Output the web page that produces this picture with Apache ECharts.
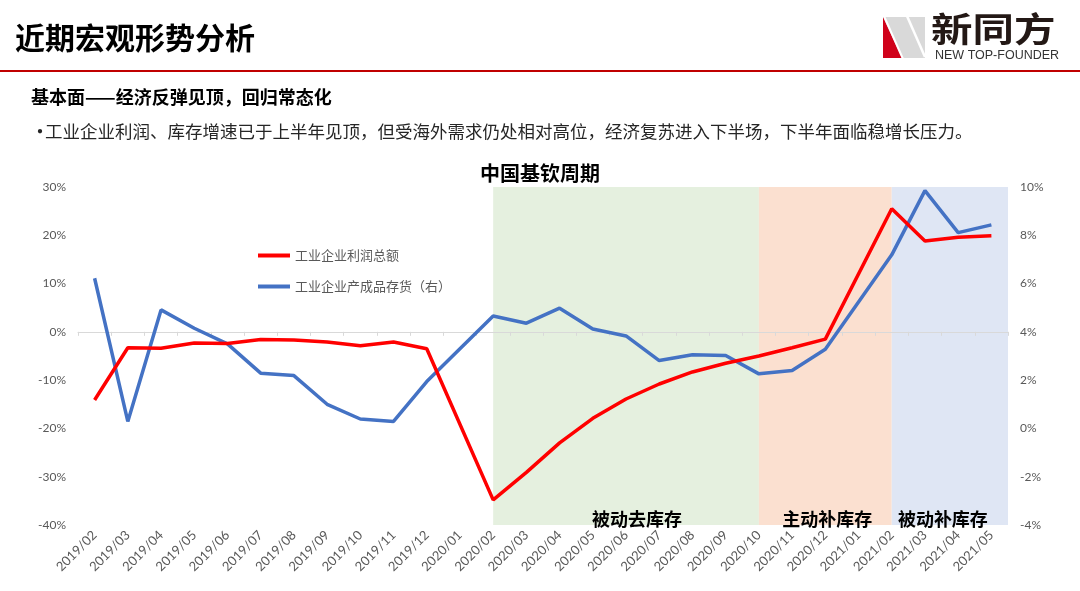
<!DOCTYPE html>
<html>
<head>
<meta charset="utf-8">
<script src="https://cdn.jsdelivr.net/npm/echarts@6/dist/echarts.min.js"></script>
<style>
html,body{margin:0;padding:0;background:#fff;}
#chart{width:1080px;height:591px;}
</style>
</head>
<body>
<div id="chart"></div>
<script>
// ---------- data ----------
const categories = ['2019/02','2019/03','2019/04','2019/05','2019/06','2019/07','2019/08','2019/09','2019/10','2019/11','2019/12',
  '2020/01','2020/02','2020/03','2020/04','2020/05','2020/06','2020/07','2020/08','2020/09','2020/10','2020/11','2020/12',
  '2021/01','2021/02','2021/03','2021/04','2021/05'];
// 工业企业利润总额 (left axis, %)
const profit = [-14.1, -3.3, -3.4, -2.3, -2.4, -1.6, -1.7, -2.1, -2.9, -2.1, -3.5,
  null, -34.8, -29.1, -23.0, -17.9, -13.9, -10.8, -8.3, -6.5, -5.0, -3.3, -1.5,
  null, 25.5, 18.8, 19.6, 19.9];
// 工业企业产成品存货 (right axis, %)
const inventory = [6.22, 0.29, 4.91, 4.15, 3.50, 2.29, 2.19, 1.00, 0.39, 0.29, 1.94,
  null, 4.66, 4.36, 4.98, 4.12, 3.83, 2.81, 3.05, 3.02, 2.26, 2.40, 3.28,
  null, 7.19, 9.85, 8.11, 8.43];
const seriesNames = ['工业企业利润总额', '工业企业产成品存货（右）'];
// phases
const phaseNames = ['被动去库存', '主动补库存', '被动补库存'];
const phaseStart = ['2020/02', '2020/10', '2021/02'];
const phaseEnd = ['2020/10', '2021/02', null];
// axis ticks
const leftTicks = {min: -40, max: 30, interval: 10};
const rightTicks = {min: -4, max: 10, interval: 2};

// ---------- text ----------
const pageTitle = '近期宏观形势分析';
const subTitle = '基本面——经济反弹见顶，回归常态化';
const bulletText = '工业企业利润、库存增速已于上半年见顶，但受海外需求仍处相对高位，经济复苏进入下半场，下半年面临稳增长压力。';
const chartTitle = '中国基钦周期';

// ---------- styles ----------
const phaseColors = ['#e5f0df', '#fbe0d0', '#dfe6f4'];
const phaseLabelOffsets = [[11, 3], [2, 3], [-7, 3]];
const CJK = "'Noto Sans CJK SC', 'Noto Sans', sans-serif";
const NUM = "Lato, 'Noto Sans CJK SC', sans-serif";

const catMax = categories.length - 0.5;
const markData = phaseNames.map((n, i) => {
  const s = categories.indexOf(phaseStart[i]);
  const e = phaseEnd[i] == null ? catMax : categories.indexOf(phaseEnd[i]);
  return [
    {xAxis: s, name: n, itemStyle: {color: phaseColors[i]}, label: {offset: phaseLabelOffsets[i]}},
    {xAxis: e}
  ];
});

const chart = echarts.init(document.getElementById('chart'), null, {renderer: 'canvas'});
const grid = {left: 78, right: 72, top: 187, bottom: 66, containLabel: false};

chart.setOption({
  animation: false,
  backgroundColor: '#ffffff',
  textStyle: {fontFamily: NUM},
  title: {
    text: chartTitle, left: 'center', top: 158,
    textStyle: {fontFamily: CJK, fontSize: 20, fontWeight: 'bold', color: '#000'}
  },
  legend: {
    orient: 'vertical', left: 253, top: 244, itemWidth: 32, itemHeight: 4, itemGap: 18,
    icon: 'rect',
    textStyle: {fontFamily: CJK, fontSize: 13, color: '#595959'},
    data: seriesNames
  },
  grid: grid,
  xAxis: [
    {
      type: 'category', data: categories, position: 'bottom', boundaryGap: true,
      axisLine: {show: false, onZero: false}, axisTick: {show: false},
      axisLabel: {rotate: 45, fontSize: 13, color: '#595959', margin: 8, interval: 0, fontFamily: NUM},
      splitLine: {show: false}
    },
    {
      type: 'category', data: categories, position: 'bottom', boundaryGap: true, z: 2,
      axisLine: {show: true, onZero: true, onZeroAxisIndex: 0, lineStyle: {color: '#d9d9d9', width: 1}},
      axisTick: {show: true, length: 4, lineStyle: {color: '#d9d9d9'}, interval: 0},
      axisLabel: {show: false}, splitLine: {show: false}
    },
    {
      type: 'value', show: false, min: -0.5, max: catMax, position: 'top',
      axisLine: {onZero: false}, splitLine: {show: false}
    }
  ],
  yAxis: [
    {
      type: 'value', position: 'left', min: leftTicks.min, max: leftTicks.max, interval: leftTicks.interval,
      axisLine: {show: false, onZero: false}, axisTick: {show: false}, splitLine: {show: false},
      axisLabel: {formatter: '{value}%', fontSize: 12, color: '#595959', margin: 12, fontFamily: NUM}
    },
    {
      type: 'value', position: 'right', min: rightTicks.min, max: rightTicks.max, interval: rightTicks.interval,
      axisLine: {show: false, onZero: false}, axisTick: {show: false}, splitLine: {show: false},
      axisLabel: {formatter: '{value}%', fontSize: 12, color: '#595959', margin: 12, fontFamily: NUM}
    }
  ],
  series: [
    {
      name: 'phases', type: 'line', xAxisIndex: 2, yAxisIndex: 0, data: [], z: 1, silent: true,
      markArea: {
        silent: true,
        label: {show: true, position: 'insideBottom', distance: 0, formatter: '{b}', color: '#000',
                fontSize: 18, fontWeight: 'bold', fontFamily: CJK},
        data: markData
      }
    },
    {
      name: seriesNames[0], type: 'line', xAxisIndex: 0, yAxisIndex: 0, data: profit, z: 4,
      showSymbol: false, symbol: 'none', connectNulls: true,
      lineStyle: {color: '#ff0000', width: 3.5}, itemStyle: {color: '#ff0000'}
    },
    {
      name: seriesNames[1], type: 'line', xAxisIndex: 0, yAxisIndex: 1, data: inventory, z: 3,
      showSymbol: false, symbol: 'none', connectNulls: true,
      lineStyle: {color: '#4472c4', width: 3.5}, itemStyle: {color: '#4472c4'}
    }
  ],
  graphic: [
    {type: 'text', x: 15, y: 38, style: {text: pageTitle, font: "bold 30px " + CJK, fill: '#000', textVerticalAlign: 'middle'}},
    {type: 'rect', shape: {x: 0, y: 70, width: 1080, height: 2}, style: {fill: '#c00000'}},
    // logo
    {type: 'polygon', shape: {points: [[883,17],[925,17],[925,58],[883,58]]}, style: {fill: '#d9d9d9'}},
    {type: 'polygon', shape: {points: [[883,17],[883,58],[902,58]]}, style: {fill: '#d0021b'}},
    {type: 'line', shape: {x1: 884, y1: 16, x2: 903, y2: 59}, style: {stroke: '#fff', lineWidth: 2}},
    {type: 'line', shape: {x1: 907, y1: 16, x2: 925, y2: 57}, style: {stroke: '#fff', lineWidth: 2.5}},
    {type: 'text', x: 931, y: 29, scaleX: 1.22, originX: 0, originY: 0,
      style: {text: '新同方', font: "bold 34px " + CJK, fill: '#231815', textVerticalAlign: 'middle'}},
    {type: 'text', x: 935, y: 56, style: {text: 'NEW TOP-FOUNDER', font: "12.5px 'Liberation Sans', sans-serif", fill: '#333', textVerticalAlign: 'middle'}},
    // sub header
    {type: 'text', x: 31, y: 97, style: {text: subTitle, font: "bold 18px " + CJK, fill: '#000', textVerticalAlign: 'middle'}},
    {type: 'text', x: 30, y: 131, style: {text: '•', font: "20px " + CJK, fill: '#262626', textVerticalAlign: 'middle'}},
    {type: 'text', x: 45, y: 131, style: {text: bulletText, font: "17.5px " + CJK, fill: '#262626', textVerticalAlign: 'middle'}}
  ]
});
</script>
</body>
</html>
